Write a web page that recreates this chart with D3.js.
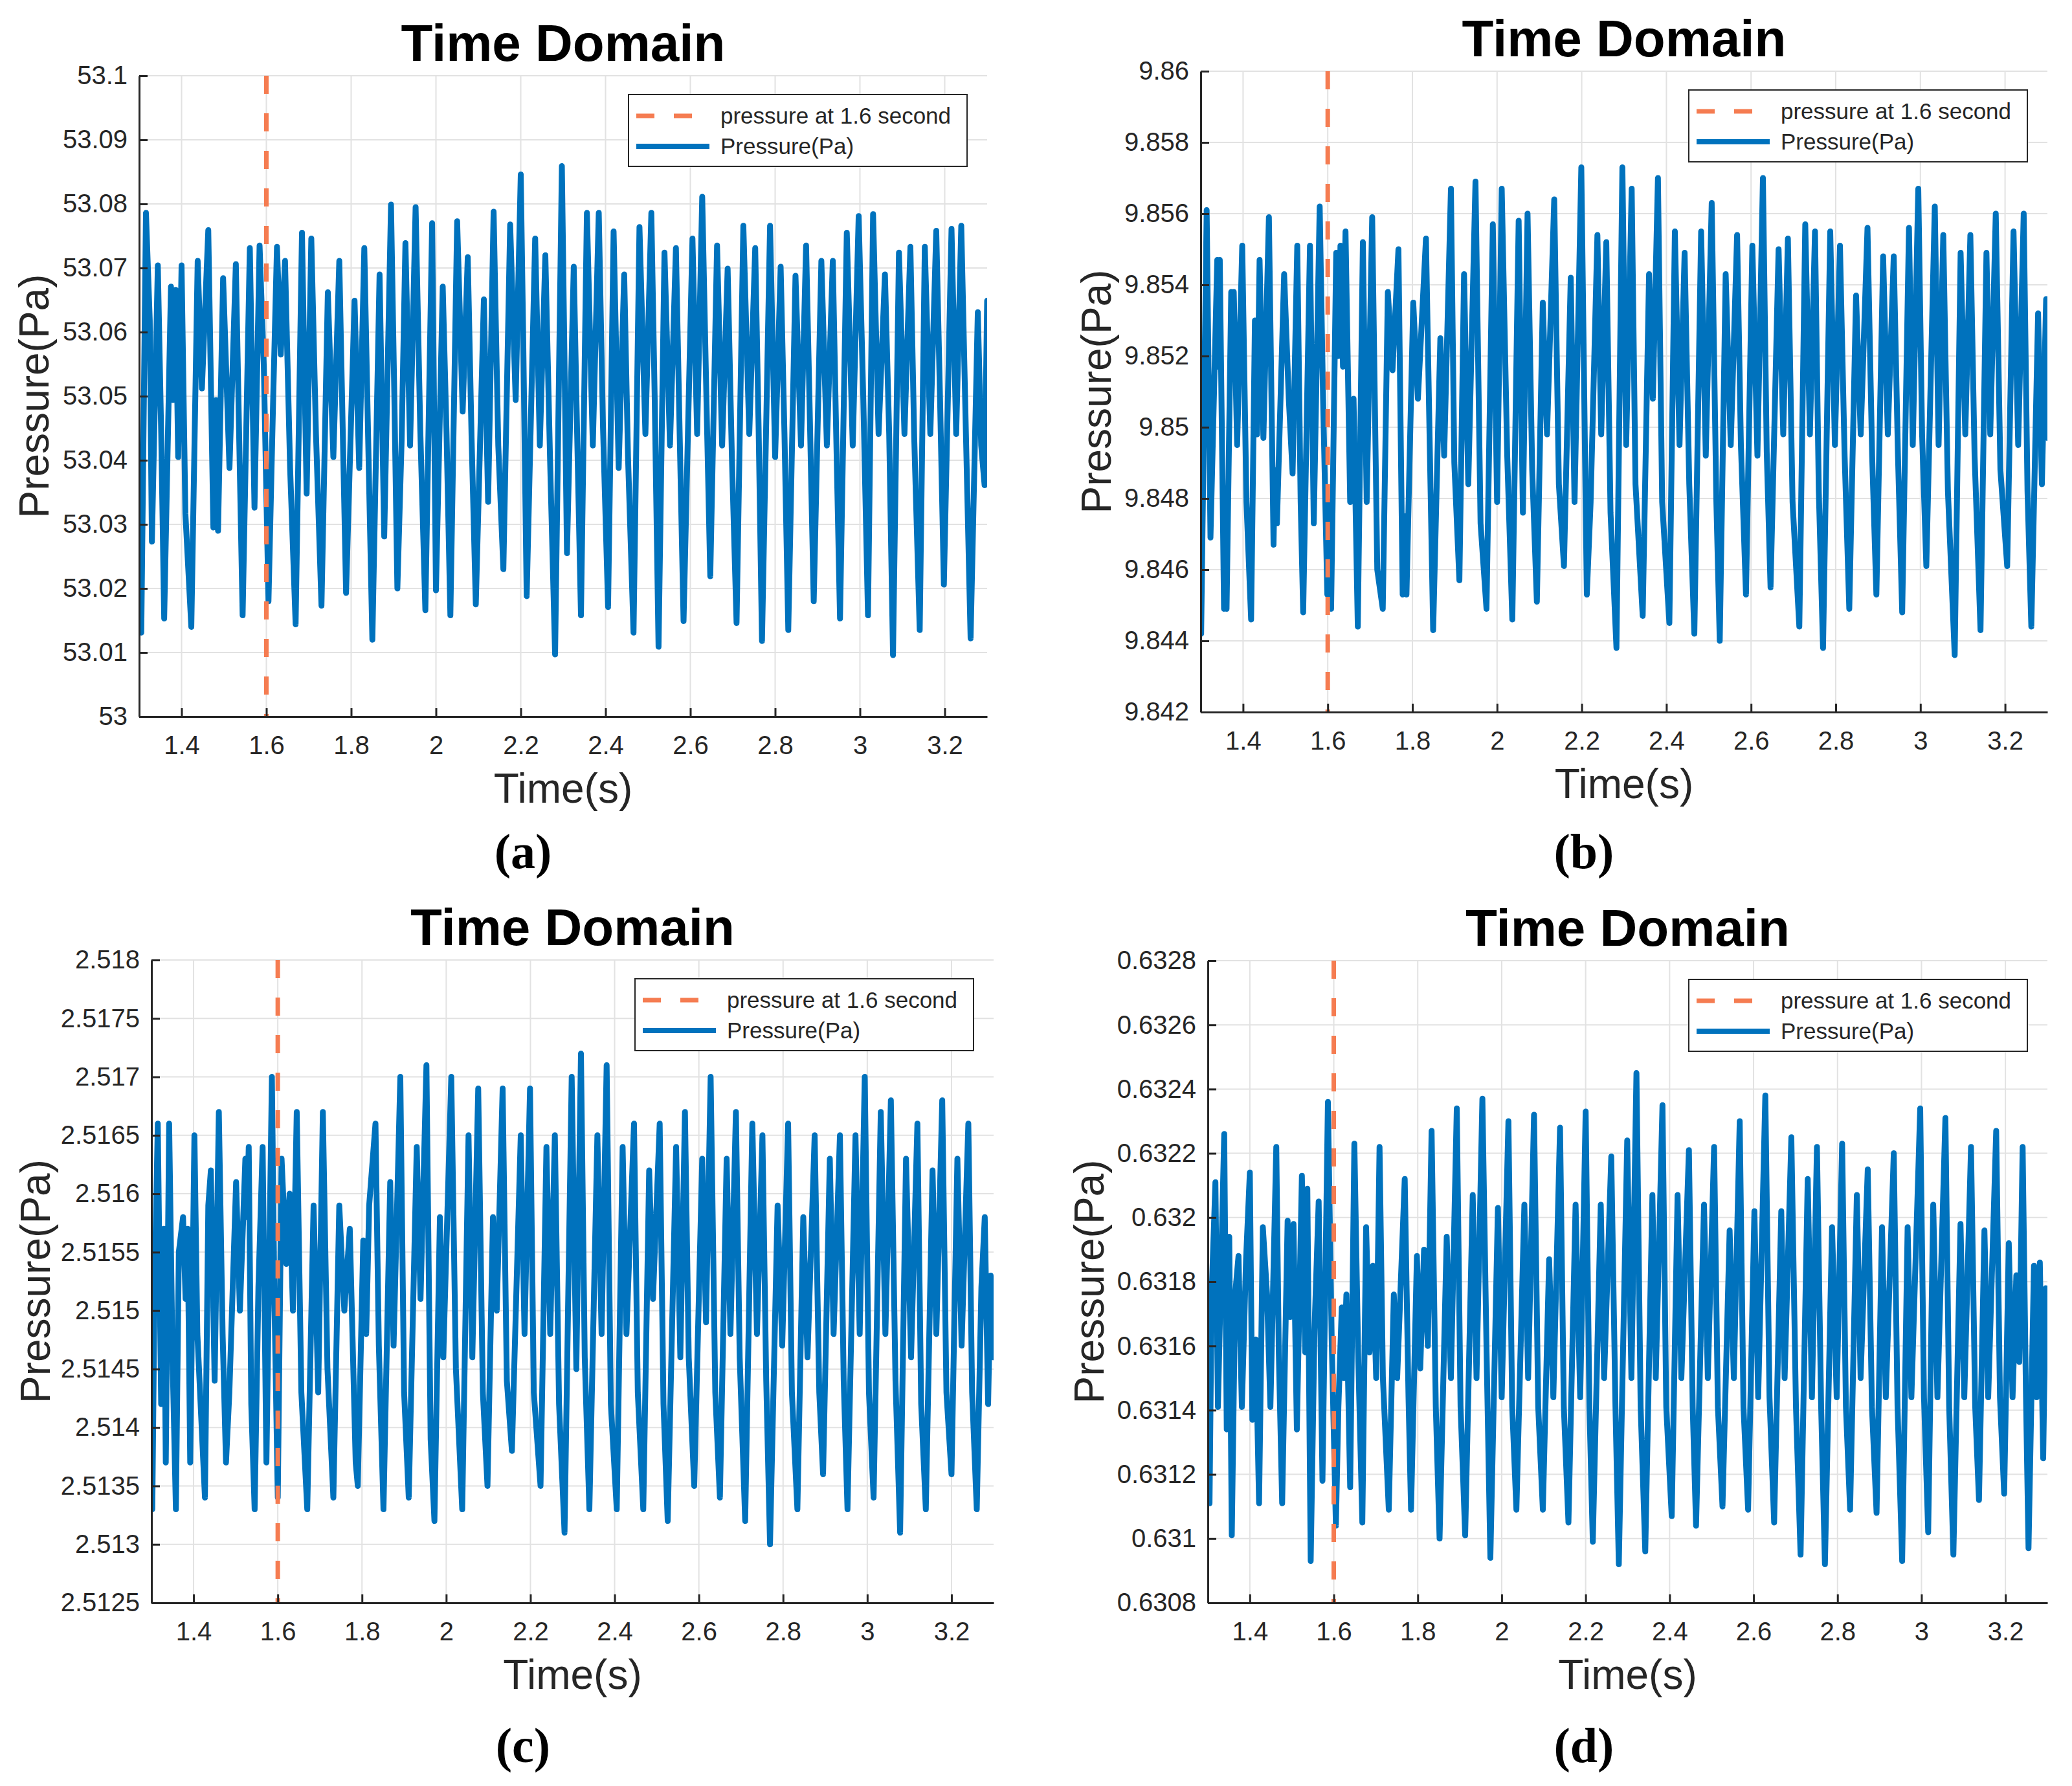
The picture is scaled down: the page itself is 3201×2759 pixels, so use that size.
<!DOCTYPE html>
<html>
<head>
<meta charset="utf-8">
<script src="https://cdn.jsdelivr.net/npm/d3@7"></script>
<style>
  body { margin: 0; background: #fff; }
  svg { display: block; }
</style>
</head>
<body>
<script>
// valeurs

const titleText = "Time Domain";
const xLabelText = "Time(s)";
const yLabelText = "Pressure(Pa)";
const legendLabels = ["pressure at 1.6 second", "Pressure(Pa)"];
const markerTime = 1.6;
const timeDomain = [1.3, 3.3];
const timeTicks = [1.4, 1.6, 1.8, 2, 2.2, 2.4, 2.6, 2.8, 3, 3.2];

const ticksA = [53, 53.01, 53.02, 53.03, 53.04, 53.05, 53.06, 53.07, 53.08, 53.09, 53.1];
const ticksB = [9.842, 9.844, 9.846, 9.848, 9.85, 9.852, 9.854, 9.856, 9.858, 9.86];
const ticksC = [2.5125, 2.513, 2.5135, 2.514, 2.5145, 2.515, 2.5155, 2.516, 2.5165, 2.517, 2.5175, 2.518];
const ticksD = [0.6308, 0.631, 0.6312, 0.6314, 0.6316, 0.6318, 0.632, 0.6322, 0.6324, 0.6326, 0.6328];

// [temps (s), pression (Pa)]
const seriesA = [
  [1.300,53.0162],[1.305,53.0131],[1.316,53.0786],[1.325,53.0618],[1.330,53.0273],[1.344,53.0704],
  [1.352,53.0441],[1.359,53.0153],[1.375,53.0671],[1.380,53.0494],[1.386,53.0666],[1.392,53.0405],
  [1.400,53.0704],[1.409,53.0317],[1.423,53.0140],[1.438,53.0711],[1.448,53.0512],[1.463,53.0759],
  [1.475,53.0295],[1.481,53.0494],[1.486,53.0290],[1.498,53.0684],[1.513,53.0388],[1.528,53.0706],
  [1.544,53.0158],[1.561,53.0731],[1.572,53.0326],[1.584,53.0735],[1.594,53.0547],[1.605,53.0180],
  [1.616,53.0494],[1.625,53.0733],[1.634,53.0565],[1.644,53.0711],[1.656,53.0388],[1.669,53.0144],
  [1.684,53.0755],[1.695,53.0348],[1.706,53.0746],[1.717,53.0441],[1.730,53.0173],[1.745,53.0662],
  [1.758,53.0405],[1.772,53.0711],[1.780,53.0452],[1.788,53.0193],[1.808,53.0649],[1.819,53.0388],
  [1.831,53.0731],[1.841,53.0405],[1.850,53.0120],[1.867,53.0690],[1.878,53.0281],[1.894,53.0799],
  [1.902,53.0494],[1.909,53.0200],[1.919,53.0430],[1.928,53.0739],[1.939,53.0423],[1.952,53.0795],
  [1.963,53.0448],[1.975,53.0166],[1.991,53.0770],[2.000,53.0197],[2.016,53.0671],[2.025,53.0441],
  [2.034,53.0158],[2.050,53.0773],[2.063,53.0476],[2.075,53.0717],[2.084,53.0436],[2.094,53.0175],
  [2.113,53.0651],[2.123,53.0335],[2.136,53.0788],[2.147,53.0423],[2.159,53.0230],[2.175,53.0768],
  [2.188,53.0494],[2.200,53.0846],[2.206,53.0582],[2.214,53.0188],[2.234,53.0746],[2.245,53.0423],
  [2.258,53.0720],[2.269,53.0405],[2.281,53.0097],[2.297,53.0859],[2.303,53.0565],[2.309,53.0255],
  [2.325,53.0702],[2.333,53.0441],[2.342,53.0158],[2.356,53.0786],[2.370,53.0423],[2.384,53.0786],
  [2.394,53.0452],[2.406,53.0171],[2.419,53.0757],[2.431,53.0388],[2.444,53.0690],[2.453,53.0405],
  [2.466,53.0131],[2.480,53.0764],[2.494,53.0441],[2.508,53.0786],[2.516,53.0494],[2.525,53.0109],
  [2.539,53.0724],[2.552,53.0423],[2.566,53.0731],[2.575,53.0436],[2.584,53.0149],[2.605,53.0746],
  [2.616,53.0441],[2.628,53.0811],[2.638,53.0494],[2.647,53.0219],[2.663,53.0735],[2.675,53.0423],
  [2.688,53.0699],[2.698,53.0405],[2.709,53.0146],[2.725,53.0766],[2.739,53.0441],[2.753,53.0731],
  [2.761,53.0452],[2.769,53.0118],[2.788,53.0766],[2.800,53.0405],[2.813,53.0702],[2.822,53.0441],
  [2.831,53.0135],[2.848,53.0688],[2.861,53.0423],[2.873,53.0735],[2.881,53.0494],[2.891,53.0180],
  [2.909,53.0711],[2.922,53.0423],[2.936,53.0711],[2.944,53.0441],[2.953,53.0153],[2.969,53.0755],
  [2.983,53.0423],[2.997,53.0781],[3.008,53.0494],[3.019,53.0158],[3.031,53.0784],[3.044,53.0441],
  [3.059,53.0690],[3.069,53.0441],[3.078,53.0096],[3.092,53.0724],[3.105,53.0441],[3.119,53.0733],
  [3.128,53.0436],[3.141,53.0135],[3.153,53.0733],[3.166,53.0441],[3.180,53.0758],[3.189,53.0494],
  [3.198,53.0206],[3.216,53.0761],[3.227,53.0441],[3.239,53.0766],[3.250,53.0441],[3.261,53.0122],
  [3.278,53.0631],[3.286,53.0423],[3.294,53.0361],[3.300,53.0649]
];

const seriesB = [
  [1.300,9.8455],[1.301,9.8442],[1.314,9.8561],[1.323,9.8469],[1.339,9.8547],[1.342,9.8517],
  [1.345,9.8547],[1.355,9.8449],[1.358,9.8468],[1.361,9.8449],[1.372,9.8538],[1.375,9.8517],
  [1.378,9.8538],[1.386,9.8495],[1.398,9.8551],[1.408,9.8479],[1.419,9.8446],[1.428,9.8530],
  [1.433,9.8498],[1.439,9.8547],[1.448,9.8497],[1.461,9.8559],[1.472,9.8467],[1.475,9.8488],
  [1.480,9.8473],[1.497,9.8543],[1.508,9.8508],[1.517,9.8487],[1.528,9.8551],[1.536,9.8479],
  [1.542,9.8448],[1.558,9.8551],[1.567,9.8473],[1.581,9.8562],[1.589,9.8508],[1.599,9.8453],
  [1.603,9.8479],[1.608,9.8449],[1.620,9.8549],[1.625,9.8520],[1.630,9.8551],[1.636,9.8517],
  [1.642,9.8555],[1.653,9.8479],[1.661,9.8508],[1.671,9.8444],[1.683,9.8552],[1.692,9.8479],
  [1.705,9.8559],[1.717,9.8460],[1.730,9.8449],[1.742,9.8538],[1.753,9.8516],[1.767,9.8550],
  [1.777,9.8453],[1.782,9.8475],[1.786,9.8453],[1.802,9.8535],[1.813,9.8508],[1.832,9.8553],
  [1.849,9.8443],[1.866,9.8525],[1.875,9.8492],[1.891,9.8567],[1.899,9.8490],[1.911,9.8457],
  [1.922,9.8543],[1.932,9.8484],[1.949,9.8569],[1.961,9.8473],[1.975,9.8449],[1.990,9.8557],
  [2.000,9.8479],[2.011,9.8567],[2.024,9.8492],[2.036,9.8446],[2.051,9.8558],[2.061,9.8476],
  [2.072,9.8560],[2.083,9.8488],[2.094,9.8451],[2.108,9.8535],[2.118,9.8498],[2.135,9.8564],
  [2.146,9.8484],[2.158,9.8461],[2.174,9.8542],[2.183,9.8479],[2.199,9.8573],[2.212,9.8453],
  [2.221,9.8479],[2.237,9.8554],[2.246,9.8498],[2.258,9.8552],[2.268,9.8476],[2.282,9.8438],
  [2.296,9.8573],[2.305,9.8495],[2.318,9.8567],[2.327,9.8484],[2.344,9.8447],[2.359,9.8543],
  [2.368,9.8508],[2.380,9.8570],[2.390,9.8479],[2.407,9.8445],[2.420,9.8555],[2.431,9.8495],
  [2.443,9.8549],[2.454,9.8484],[2.466,9.8442],[2.482,9.8555],[2.493,9.8492],[2.507,9.8563],
  [2.518,9.8479],[2.526,9.8440],[2.540,9.8543],[2.552,9.8495],[2.567,9.8554],[2.576,9.8495],
  [2.588,9.8453],[2.603,9.8551],[2.615,9.8492],[2.628,9.8570],[2.637,9.8493],[2.646,9.8455],
  [2.665,9.8550],[2.676,9.8498],[2.687,9.8553],[2.698,9.8479],[2.714,9.8444],[2.728,9.8557],
  [2.739,9.8498],[2.751,9.8555],[2.760,9.8482],[2.770,9.8438],[2.787,9.8555],[2.798,9.8495],
  [2.810,9.8551],[2.821,9.8492],[2.832,9.8449],[2.848,9.8537],[2.859,9.8498],[2.875,9.8556],
  [2.886,9.8492],[2.896,9.8453],[2.912,9.8548],[2.923,9.8498],[2.937,9.8548],[2.947,9.8492],
  [2.957,9.8448],[2.973,9.8556],[2.982,9.8495],[2.995,9.8567],[3.004,9.8498],[3.014,9.8461],
  [3.034,9.8562],[3.043,9.8495],[3.054,9.8554],[3.065,9.8482],[3.081,9.8436],[3.095,9.8549],
  [3.106,9.8498],[3.118,9.8554],[3.128,9.8492],[3.142,9.8443],[3.156,9.8549],[3.165,9.8498],
  [3.178,9.8560],[3.189,9.8488],[3.205,9.8461],[3.220,9.8555],[3.231,9.8495],[3.244,9.8560],
  [3.253,9.8482],[3.262,9.8444],[3.278,9.8532],[3.287,9.8484],[3.297,9.8536],[3.300,9.8497]
];

const seriesC = [
  [1.300,2.5138],[1.302,2.5133],[1.307,2.5151],[1.315,2.5166],[1.323,2.5142],[1.329,2.5157],
  [1.334,2.5137],[1.342,2.5166],[1.350,2.5146],[1.358,2.5133],[1.365,2.5155],[1.375,2.5158],
  [1.381,2.5151],[1.386,2.5157],[1.392,2.5137],[1.402,2.5165],[1.409,2.5148],[1.427,2.5134],
  [1.435,2.5159],[1.441,2.5162],[1.450,2.5144],[1.460,2.5167],[1.469,2.5148],[1.477,2.5137],
  [1.485,2.5143],[1.501,2.5161],[1.510,2.5150],[1.523,2.5163],[1.527,2.5158],[1.531,2.5164],
  [1.537,2.5142],[1.545,2.5133],[1.554,2.5152],[1.564,2.5164],[1.573,2.5137],[1.586,2.5170],
  [1.592,2.5151],[1.600,2.5134],[1.609,2.5163],[1.620,2.5154],[1.628,2.5160],[1.636,2.5150],
  [1.645,2.5167],[1.656,2.5143],[1.670,2.5133],[1.685,2.5159],[1.696,2.5143],[1.707,2.5167],
  [1.718,2.5145],[1.732,2.5134],[1.746,2.5159],[1.758,2.5150],[1.771,2.5157],[1.785,2.5137],
  [1.790,2.5135],[1.803,2.5156],[1.810,2.5148],[1.817,2.5159],[1.832,2.5166],[1.840,2.5147],
  [1.851,2.5133],[1.867,2.5161],[1.875,2.5147],[1.891,2.5170],[1.900,2.5143],[1.911,2.5134],
  [1.930,2.5164],[1.939,2.5151],[1.953,2.5171],[1.963,2.5139],[1.972,2.5132],[1.985,2.5158],
  [1.993,2.5146],[2.012,2.5170],[2.023,2.5145],[2.038,2.5133],[2.053,2.5165],[2.062,2.5146],
  [2.076,2.5169],[2.087,2.5143],[2.098,2.5135],[2.111,2.5158],[2.120,2.5150],[2.134,2.5169],
  [2.144,2.5144],[2.156,2.5138],[2.177,2.5165],[2.186,2.5148],[2.199,2.5169],[2.208,2.5143],
  [2.224,2.5135],[2.238,2.5164],[2.247,2.5148],[2.258,2.5165],[2.268,2.5142],[2.281,2.5131],
  [2.298,2.5170],[2.309,2.5145],[2.320,2.5172],[2.329,2.5146],[2.340,2.5133],[2.359,2.5165],
  [2.369,2.5148],[2.381,2.5171],[2.391,2.5142],[2.405,2.5133],[2.419,2.5164],[2.428,2.5148],
  [2.446,2.5166],[2.455,2.5143],[2.468,2.5133],[2.482,2.5162],[2.491,2.5151],[2.507,2.5166],
  [2.516,2.5142],[2.526,2.5132],[2.546,2.5164],[2.556,2.5146],[2.567,2.5167],[2.576,2.5146],
  [2.589,2.5135],[2.608,2.5163],[2.617,2.5149],[2.628,2.5170],[2.639,2.5143],[2.650,2.5134],
  [2.666,2.5163],[2.675,2.5148],[2.688,2.5167],[2.697,2.5146],[2.710,2.5132],[2.727,2.5166],
  [2.738,2.5148],[2.751,2.5165],[2.760,2.5144],[2.769,2.5130],[2.787,2.5159],[2.798,2.5147],
  [2.812,2.5166],[2.821,2.5143],[2.834,2.5133],[2.848,2.5158],[2.858,2.5146],[2.875,2.5165],
  [2.886,2.5143],[2.895,2.5136],[2.911,2.5163],[2.920,2.5148],[2.935,2.5165],[2.944,2.5144],
  [2.953,2.5133],[2.972,2.5165],[2.982,2.5148],[2.994,2.5170],[3.004,2.5143],[3.015,2.5134],
  [3.032,2.5167],[3.043,2.5148],[3.056,2.5168],[3.067,2.5144],[3.078,2.5131],[3.092,2.5163],
  [3.104,2.5146],[3.119,2.5166],[3.128,2.5142],[3.139,2.5133],[3.155,2.5162],[3.164,2.5148],
  [3.178,2.5168],[3.188,2.5143],[3.200,2.5136],[3.214,2.5163],[3.224,2.5147],[3.240,2.5166],
  [3.249,2.5143],[3.260,2.5133],[3.271,2.5152],[3.279,2.5158],[3.287,2.5142],[3.293,2.5153],
  [3.300,2.5146]
];

const seriesD = [
  [1.300,0.63134],[1.304,0.63111],[1.309,0.63176],[1.318,0.63211],[1.324,0.63141],[1.332,0.63187],
  [1.339,0.63226],[1.345,0.63134],[1.351,0.63194],[1.357,0.63101],[1.365,0.63176],[1.373,0.63188],
  [1.381,0.63141],[1.391,0.63187],[1.400,0.63214],[1.406,0.63137],[1.414,0.63162],[1.422,0.63111],
  [1.431,0.63197],[1.441,0.63176],[1.449,0.63141],[1.463,0.63222],[1.469,0.63158],[1.477,0.63111],
  [1.490,0.63199],[1.496,0.63169],[1.504,0.63198],[1.512,0.63134],[1.524,0.63213],[1.532,0.63158],
  [1.537,0.63209],[1.545,0.63093],[1.554,0.63165],[1.564,0.63205],[1.573,0.63118],[1.586,0.63236],
  [1.595,0.63162],[1.605,0.63104],[1.611,0.63141],[1.619,0.63172],[1.624,0.63150],[1.630,0.63176],
  [1.639,0.63116],[1.649,0.63223],[1.658,0.63158],[1.668,0.63105],[1.677,0.63197],[1.685,0.63158],
  [1.693,0.63185],[1.701,0.63150],[1.709,0.63222],[1.717,0.63150],[1.731,0.63109],[1.743,0.63176],
  [1.751,0.63150],[1.769,0.63212],[1.778,0.63144],[1.784,0.63109],[1.798,0.63188],[1.806,0.63153],
  [1.815,0.63190],[1.824,0.63160],[1.833,0.63227],[1.843,0.63141],[1.852,0.63100],[1.869,0.63194],
  [1.879,0.63150],[1.893,0.63234],[1.902,0.63141],[1.913,0.63101],[1.931,0.63207],[1.940,0.63150],
  [1.954,0.63237],[1.964,0.63158],[1.973,0.63094],[1.991,0.63203],[2.000,0.63144],[2.016,0.63230],
  [2.025,0.63141],[2.035,0.63109],[2.054,0.63204],[2.063,0.63150],[2.077,0.63232],[2.087,0.63141],
  [2.098,0.63109],[2.113,0.63187],[2.123,0.63144],[2.139,0.63228],[2.148,0.63141],[2.159,0.63105],
  [2.176,0.63204],[2.187,0.63144],[2.200,0.63233],[2.209,0.63141],[2.217,0.63099],[2.236,0.63204],
  [2.244,0.63150],[2.261,0.63219],[2.271,0.63141],[2.279,0.63092],[2.299,0.63224],[2.309,0.63150],
  [2.321,0.63245],[2.331,0.63141],[2.342,0.63096],[2.359,0.63207],[2.367,0.63150],[2.383,0.63235],
  [2.392,0.63141],[2.405,0.63107],[2.419,0.63207],[2.428,0.63150],[2.446,0.63221],[2.455,0.63141],
  [2.463,0.63104],[2.482,0.63204],[2.491,0.63150],[2.506,0.63222],[2.515,0.63141],[2.526,0.63110],
  [2.543,0.63196],[2.553,0.63150],[2.567,0.63230],[2.576,0.63141],[2.587,0.63109],[2.602,0.63202],
  [2.611,0.63144],[2.628,0.63238],[2.638,0.63144],[2.649,0.63105],[2.666,0.63202],[2.674,0.63150],
  [2.690,0.63225],[2.701,0.63141],[2.712,0.63095],[2.729,0.63212],[2.739,0.63144],[2.751,0.63222],
  [2.761,0.63141],[2.770,0.63092],[2.787,0.63197],[2.798,0.63144],[2.811,0.63223],[2.820,0.63141],
  [2.830,0.63109],[2.846,0.63207],[2.855,0.63150],[2.872,0.63215],[2.882,0.63141],[2.893,0.63108],
  [2.906,0.63197],[2.915,0.63144],[2.934,0.63220],[2.943,0.63141],[2.954,0.63093],[2.967,0.63197],
  [2.976,0.63144],[2.997,0.63234],[3.006,0.63144],[3.016,0.63102],[3.028,0.63204],[3.038,0.63144],
  [3.057,0.63231],[3.066,0.63141],[3.076,0.63095],[3.093,0.63198],[3.102,0.63144],[3.118,0.63222],
  [3.128,0.63141],[3.137,0.63112],[3.150,0.63196],[3.159,0.63144],[3.178,0.63227],[3.187,0.63144],
  [3.197,0.63114],[3.208,0.63192],[3.217,0.63144],[3.226,0.63182],[3.233,0.63155],[3.241,0.63222],
  [3.249,0.63144],[3.255,0.63097],[3.268,0.63185],[3.274,0.63144],[3.282,0.63186],[3.290,0.63125],
  [3.296,0.63178],[3.300,0.63153]
];

// mise en page des quatre sous-figures
const panels = [
  { tag: "(a)", data: seriesA, ticks: ticksA, x: 215,  y: 117,  w: 1310, h: 990, ylabGap: 140, tagX: 808,  tagY: 1341 },
  { tag: "(b)", data: seriesB, ticks: ticksB, x: 1855, y: 110,  w: 1308, h: 990, ylabGap: 139, tagX: 2447, tagY: 1341 },
  { tag: "(c)", data: seriesC, ticks: ticksC, x: 234,  y: 1483, w: 1301, h: 993, ylabGap: 157, tagX: 808,  tagY: 2722 },
  { tag: "(d)", data: seriesD, ticks: ticksD, x: 1866, y: 1484, w: 1297, h: 992, ylabGap: 161, tagX: 2447, tagY: 2722 }
];

const blue = "#0072bd";
const orange = "#f57c51";
const axisColor = "#262626";
const gridColor = "#e2e2e2";
const sans = "'Liberation Sans', Arial, Helvetica, sans-serif";

const canevas = d3.select("body")
  .append("svg")
  .attr("width", 3201)
  .attr("height", 2759)
  .attr("viewBox", "0 0 3201 2759");

canevas.append("rect").attr("width", 3201).attr("height", 2759).attr("fill", "#fff");

panels.forEach((p, i) => {
  const x = d3.scaleLinear().domain(timeDomain).range([0, p.w]);
  const y = d3.scaleLinear().domain(d3.extent(p.ticks)).range([p.h, 0]);

  const g = canevas.append("g").attr("transform", `translate(${p.x},${p.y})`);

  // grille
  g.append("g").selectAll("line").data(timeTicks).enter().append("line")
    .attr("x1", d => x(d)).attr("x2", d => x(d))
    .attr("y1", 0).attr("y2", p.h)
    .attr("stroke", gridColor).attr("stroke-width", 2);
  g.append("g").selectAll("line").data(p.ticks).enter().append("line")
    .attr("x1", 0).attr("x2", p.w)
    .attr("y1", d => y(d)).attr("y2", d => y(d))
    .attr("stroke", gridColor).attr("stroke-width", 2);

  // clip
  const clipId = "clip" + i;
  g.append("clipPath").attr("id", clipId)
    .append("rect").attr("width", p.w).attr("height", p.h);

  // courbe de pression
  const ligne = d3.line().x(d => x(d[0])).y(d => y(d[1]));
  g.append("path")
    .datum(p.data)
    .attr("clip-path", `url(#${clipId})`)
    .attr("d", ligne)
    .attr("fill", "none")
    .attr("stroke", blue)
    .attr("stroke-width", 9)
    .attr("stroke-linejoin", "round")
    .attr("stroke-linecap", "round");

  // ligne verticale a 1.6 s
  g.append("line")
    .attr("x1", x(markerTime)).attr("x2", x(markerTime))
    .attr("y1", 0).attr("y2", p.h)
    .attr("stroke", orange).attr("stroke-width", 7)
    .attr("stroke-dasharray", "28,30");

  // axes
  const axeX = g.append("g")
    .attr("transform", `translate(0,${p.h})`)
    .call(d3.axisBottom(x).tickValues(timeTicks).tickFormat(d3.format("~g"))
      .tickSizeInner(-13).tickSizeOuter(0).tickPadding(30));
  const axeY = g.append("g")
    .call(d3.axisLeft(y).tickValues(p.ticks).tickFormat(d3.format("~g"))
      .tickSizeInner(-13).tickSizeOuter(0).tickPadding(18));
  [axeX, axeY].forEach(a => {
    a.select(".domain").attr("stroke", axisColor).attr("stroke-width", 3);
    a.selectAll(".tick line").attr("stroke", axisColor).attr("stroke-width", 3);
    a.selectAll(".tick text")
      .attr("fill", axisColor)
      .style("font-family", sans)
      .style("font-size", "40px");
  });

  // titre
  g.append("text")
    .attr("x", p.w / 2).attr("y", -23)
    .attr("text-anchor", "middle")
    .style("font-family", sans).style("font-size", "80px").style("font-weight", "bold")
    .attr("fill", "#000")
    .text(titleText);

  // etiquettes
  g.append("text")
    .attr("x", p.w / 2).attr("y", p.h + 133)
    .attr("text-anchor", "middle")
    .style("font-family", sans).style("font-size", "64px")
    .attr("fill", axisColor)
    .text(xLabelText);
  g.append("text")
    .attr("transform", `translate(${-p.ylabGap},${p.h / 2}) rotate(-90)`)
    .attr("text-anchor", "middle")
    .style("font-family", sans).style("font-size", "64px")
    .attr("fill", axisColor)
    .text(yLabelText);

  // legende
  const lw = 523, lh = 111;
  const leg = g.append("g").attr("transform", `translate(${p.w - 31 - lw},29)`);
  leg.append("rect").attr("width", lw).attr("height", lh)
    .attr("fill", "#fff").attr("stroke", axisColor).attr("stroke-width", 2);
  const rows = [
    { label: legendLabels[0], color: orange, dash: "28,30", yy: 33 },
    { label: legendLabels[1], color: blue, dash: null, yy: 80 }
  ];
  rows.forEach(r => {
    leg.append("line")
      .attr("x1", 12).attr("x2", 125).attr("y1", r.yy).attr("y2", r.yy)
      .attr("stroke", r.color).attr("stroke-width", r.dash ? 7 : 8)
      .attr("stroke-dasharray", r.dash);
    leg.append("text")
      .attr("x", 142).attr("y", r.yy).attr("dy", "0.35em")
      .style("font-family", sans).style("font-size", "35px")
      .attr("fill", axisColor)
      .text(r.label);
  });

  // lettre de la sous-figure
  canevas.append("text")
    .attr("x", p.tagX).attr("y", p.tagY)
    .attr("text-anchor", "middle")
    .style("font-family", "'Liberation Serif', 'Times New Roman', serif")
    .style("font-size", "76px").style("font-weight", "bold")
    .attr("fill", "#000")
    .text(p.tag);
});
</script>
</body>
</html>
